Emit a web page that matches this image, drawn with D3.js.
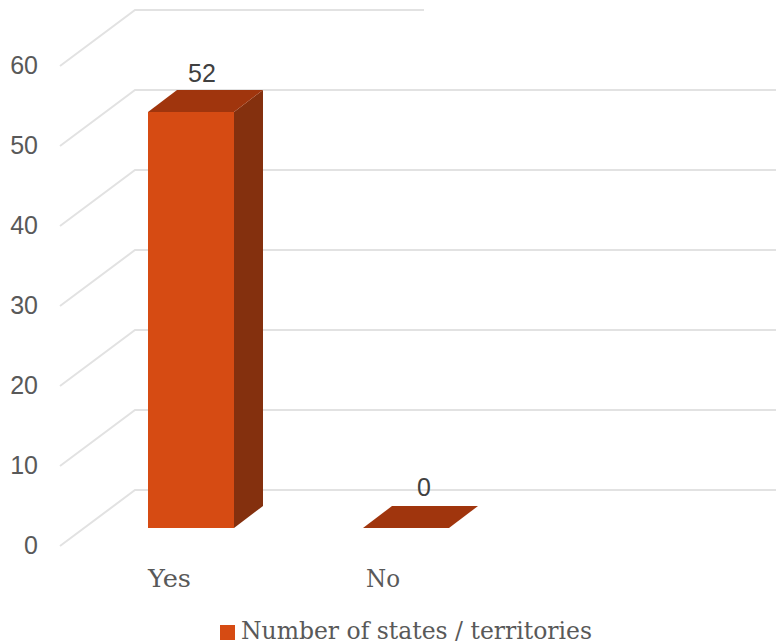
<!DOCTYPE html>
<html><head><meta charset="utf-8">
<script src="https://cdn.jsdelivr.net/npm/d3@7/dist/d3.min.js"></script>
<style>html,body{margin:0;padding:0;background:#fff;overflow:hidden}svg{display:block}</style>
</head><body><svg id="c" width="776" height="644"></svg>
<script>
const categories = ["Yes", "No"];
const values = [52, 0];
const yTicks = [0, 10, 20, 30, 40, 50, 60];
const seriesName = "Number of states / territories";

const svg = d3.select("#c");
const dx = 29, dy = 22;               // depth of bars
const floorFront = 18, floorBack = 38; // gridline ends relative to the bar-base plane
const y = d3.scaleLinear().domain([0, 60]).range([528, 48]);
const x = d3.scaleBand().domain(categories).range([105, 492]).paddingInner(0.6).paddingOuter(0.2);
const gridLeft = 60, gridBack = 135, gridRight = 776, gridTopRight = 424;
const serif = "'DejaVu Serif', serif", sans = "'Liberation Sans', Arial, sans-serif";

// gridlines
const grid = svg.append("g").attr("fill", "none").attr("stroke", "#e2e2e2").attr("stroke-width", 2);
grid.selectAll("path").data(yTicks).join("path")
  .attr("d", v => {
    const yf = y(v) + floorFront, yb = y(v) - floorBack;
    return `M${gridLeft},${yf}L${gridBack},${yb}L${v === 60 ? gridTopRight : gridRight},${yb}`;
  });

// y axis
const yAxis = svg.append("g").attr("transform", `translate(38,${floorFront - 0.5})`)
  .call(d3.axisLeft(y).tickValues(yTicks).tickSize(0).tickPadding(0).tickFormat(d3.format("d")));
yAxis.select(".domain").remove();
yAxis.attr("font-family", null).attr("font-size", null);
yAxis.selectAll("text").attr("font-family", sans).attr("font-size", 25).attr("fill", "#595959");

// bars
const data = categories.map((c, i) => ({ c, v: values[i] }));
const bars = svg.append("g").selectAll("g").data(data).join("g");
const w = x.bandwidth();
bars.append("path").attr("fill", "#84300E")
  .attr("d", d => { const r = x(d.c) + w;
    return `M${r},${y(d.v)}L${r + dx},${y(d.v) - dy}L${r + dx},${y(0) - dy}L${r},${y(0)}Z`; });
bars.append("rect").attr("fill", "#D64B13")
  .attr("x", d => x(d.c)).attr("y", d => y(d.v)).attr("width", w).attr("height", d => y(0) - y(d.v));
bars.append("path").attr("fill", "#A0350D")
  .attr("d", d => { const l = x(d.c);
    return `M${l},${y(d.v)}L${l + dx},${y(d.v) - dy}L${l + w + dx},${y(d.v) - dy}L${l + w},${y(d.v)}Z`; });
bars.append("text").text(d => d.v)
  .attr("x", d => x(d.c) + w / 2 + (d.v ? 11 : 18)).attr("y", d => y(d.v) - dy - (d.v ? 8 : 10))
  .attr("text-anchor", "middle").attr("font-family", sans).attr("font-size", 25).attr("fill", "#404040");

// category axis
const xAxis = svg.append("g").attr("transform", "translate(0,528)")
  .call(d3.axisBottom(x).tickSize(0).tickPadding(0));
xAxis.select(".domain").remove();
xAxis.attr("font-family", null).attr("font-size", null);
xAxis.selectAll("g.tick").attr("transform", d => `translate(${x(d)},0)`);
xAxis.selectAll("text").attr("text-anchor", "start").attr("x", (d, i) => i ? 3 : 0).attr("y", 59).attr("dy", 0)
  .attr("font-family", serif).attr("font-size", 25).attr("fill", "#595959")
  .attr("textLength", (d, i) => i ? 34 : 43).attr("lengthAdjust", "spacingAndGlyphs");

// legend
const legend = svg.append("g");
legend.append("rect").attr("x", 220).attr("y", 625).attr("width", 15).attr("height", 15).attr("fill", "#D64B13");
legend.append("text").text(seriesName).attr("x", 241).attr("y", 638.5)
  .attr("font-family", serif).attr("font-size", 24).attr("fill", "#595959")
  .attr("textLength", 351).attr("lengthAdjust", "spacingAndGlyphs");
</script></body></html>
